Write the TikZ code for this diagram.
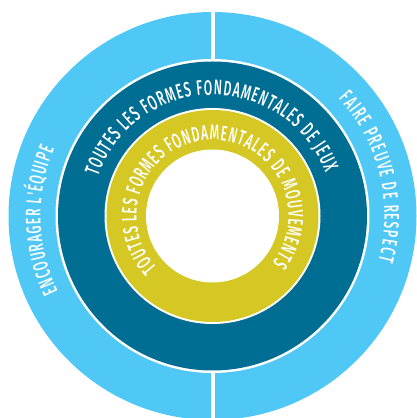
\documentclass[tikz,border=0pt]{standalone}
\usepackage{fontspec}
\newfontfamily\ringfont[FakeStretch=0.58]{Fira Sans Medium}
\usetikzlibrary{decorations.text}
\definecolor{skyblue}{RGB}{80,200,245}
\definecolor{deepteal}{RGB}{0,110,147}
\definecolor{mustard}{RGB}{214,200,36}
\tikzset{
  ringlabel/.style={decorate,decoration={text along path,text align=fit to path,text color=white,
    text={|\ringfont\fontsize{21pt}{21pt}\selectfont|#1}}}
}
\begin{document}
\begin{tikzpicture}[x=1pt,y=1pt]
	\useasboundingbox (0,0) rectangle (417,418);
	\clip (0,0) rectangle (417,418);
	\coordinate (c) at (212.5,202);
	
	% rings
	\fill[skyblue] (c) circle[radius=204pt];
	\fill[white] (c) circle[radius=157pt];
	\fill[deepteal] (c) circle[radius=154.5pt];
	\fill[white] (c) circle[radius=108pt];
	\fill[mustard] (c) circle[radius=106pt];
	\fill[white] (c) circle[radius=66.5pt];
	
	% split of the outer ring
	\draw[white,line width=4pt] ([yshift=155pt]c)--([yshift=220pt]c);
	\draw[white,line width=4pt] ([yshift=-155pt]c)--([yshift=-220pt]c);
	
	% labels
	\path[ringlabel={ENCOURAGER L'ÉQUIPE}] ([shift={(206:172pt)}]c) arc[start angle=206,end angle=157,radius=172pt];
	\path[ringlabel={FAIRE PREUVE DE RESPECT}] ([shift={(43:172pt)}]c) arc[start angle=43,end angle=-15,radius=172pt];
	\path[ringlabel={TOUTES LES FORMES FONDAMENTALES DE JEUX}] ([shift={(161:121pt)}]c) arc[start angle=161,end angle=21,radius=121pt];
	\path[ringlabel={TOUTES LES FORMES FONDAMENTALES DE MOUVEMENTS}] ([shift={(223:76pt)}]c) arc[start angle=223,end angle=-38,radius=76pt];
\end{tikzpicture}
\end{document}
